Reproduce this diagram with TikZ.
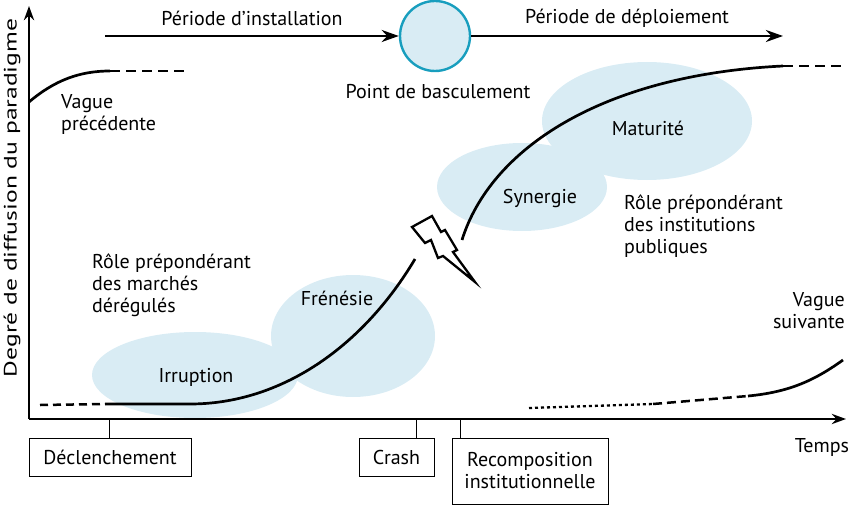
\documentclass[tikz,border=0pt]{standalone}
\usepackage{fontspec}
\setmainfont{PT Sans}
\usepackage{tikz}
\usetikzlibrary{arrows.meta,shapes,positioning,calc}
\definecolor{phasefill}{RGB}{217,236,244}
\definecolor{pivotline}{RGB}{24,158,190}
\tikzset{
    axis/.style={-{Stealth[length=5mm, width=3.6mm]}, line width=2.3pt},
    period/.style={-{Stealth[length=6mm, width=4.2mm]}, line width=2.8pt},
    wave/.style={line width=2.7pt},
    trail/.style={line width=2.5pt, dash pattern=on 10pt off 6pt},
    phase/.style={fill=phasefill, draw=none},
    pivot/.style={draw=pivotline, fill=phasefill, circle, line width=2.4pt, minimum size=70pt},
    eventbox/.style={draw, line width=1pt, align=center, inner sep=0pt},
    tick/.style={line width=1pt},
    lbl/.style={align=left, inner sep=0pt}
}

\begin{document}
\begin{tikzpicture}[x=1pt, y=-1pt, font=\fontsize{20}{22}\selectfont]
    \useasboundingbox (0,0) rectangle (850,505);
    % phases
    \fill[phase] (195,375) ellipse [x radius=103pt, y radius=43pt];
    \fill[phase] (353,336) ellipse [x radius=82pt, y radius=61pt];
    \fill[phase] (522,187) ellipse [x radius=85pt, y radius=44pt];
    \fill[phase] (647,121) ellipse [x radius=105pt, y radius=59pt];
    \node (irruption) at (196,377) {Irruption};
    \node (frenesie) at (337,298) {Frénésie};
    \node (synergie) at (540,198) {Synergie};
    \node (maturite) at (648,128) {Maturité};

    % axes
    \coordinate (o) at (29,419);
    \coordinate (ytop) at (29,6);
    \coordinate (xend) at (846,419);
    \draw[axis] (o) -- (ytop);
    \draw[axis] (o) -- (xend);
    \node[rotate=90, font=\fontsize{18}{20}\selectfont] (ylab) at (12,198) {\scalebox{1.42}[1]{Degré de diffusion du paradigme}};
    \node (temps) at (822,447) {Temps};

    % periods
    \node[pivot] (pivot) at (435,36) {};
    \node (pivlab) at (438,92) {Point de basculement};
    \coordinate (instart) at (105,36);
    \coordinate (depend) at (783,36);
    \draw[period] (instart) -- (pivot);
    \draw[period] (pivot) -- (depend);
    \node (install) at (252,18) {Période d’installation};
    \node (deploy) at (627,18) {Période de déploiement};

    % waves
    \draw[wave] (29,102) .. controls (55,80) and (80,71) .. (110,71);
    \draw[trail] (110,71) -- (187,71);
    \node[lbl, anchor=north west] (prev) at (61,94) {Vague\\précédente};
    \draw[trail, dash pattern=on 8pt off 5pt] (40,405) -- (105,404);
    \draw[wave] (105,404) -- (190,404) .. controls (280,404) and (362,348) .. (415,259);
    \draw[wave] (462,240) .. controls (490,150) and (600,75) .. (783,66);
    \draw[trail] (783,66) -- (845,66);
    \draw[line width=2.3pt, dash pattern=on 3pt off 3pt] (529,408) -- (653,404);
    \draw[trail, dash pattern=on 9pt off 5pt] (653,404) -- (748,396);
    \draw[wave] (748,396) .. controls (790,392) and (815,380) .. (843,360);
    \node[lbl, align=right, anchor=north east] (next) at (845,292) {Vague\\suivante};

    % crash
    \draw[line width=2.3pt, fill=white, line join=miter]
        (412,227) -- (432,216) -- (441,232) -- (445,230) -- (457,250) -- (453,252)
        -- (475,282) -- (443,256) -- (438,258) -- (431,240) -- (425,243) -- cycle;

    % roles
    \node[lbl, anchor=north west] (marches) at (92,254) {Rôle prépondérant\\des marchés\\dérégulés};
    \node[lbl, anchor=north west] (publiques) at (624,195) {Rôle prépondérant\\des institutions\\publiques};

    % events
    \node[eventbox, minimum width=162pt, minimum height=38pt] (declench) at (110,457) {Déclenchement};
    \node[eventbox, minimum width=75pt, minimum height=38pt] (crash) at (396.5,457) {Crash};
    \node[eventbox, minimum width=156pt, minimum height=66pt] (recomp) at (530,471) {Recomposition\\institutionnelle};
    \coordinate (tdecl) at (109,419);
    \coordinate (tcrash) at (416,419);
    \coordinate (trecomp) at (460,419);
    \draw[tick] (tdecl) -- (tdecl |- declench.north);
    \draw[tick] (tcrash) -- (tcrash |- crash.north);
    \draw[tick] (trecomp) -- (trecomp |- recomp.north);
\end{tikzpicture}
\end{document}
